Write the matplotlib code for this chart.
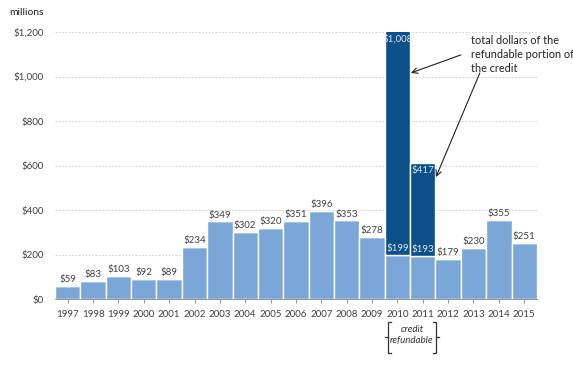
import matplotlib.pyplot as plt
import numpy as np

years = ['1997', '1998', '1999', '2000', '2001', '2002', '2003', '2004', '2005', '2006',
         '2007', '2008', '2009', '2010', '2011', '2012', '2013', '2014', '2015']
credit = [59, 83, 103, 92, 89, 234, 349, 302, 320, 351, 396, 353, 278, 199, 193, 179, 230, 355, 251]
refundable = [0, 0, 0, 0, 0, 0, 0, 0, 0, 0, 0, 0, 0, 1008, 417, 0, 0, 0, 0]
yticks = [0, 200, 400, 600, 800, 1000, 1200]

light = '#7ba6d8'
dark = '#0b5088'
txt = '#404040'

plt.rcParams['font.family'] = ['Lato', 'DejaVu Sans']

fig = plt.figure(figsize=(5.73, 3.66), dpi=100)
ax = fig.add_axes([0.096, 0.183, 0.841, 0.7295])

x = np.arange(len(years))
ax.bar(x, credit, width=1.0, color=light, edgecolor='white', linewidth=1.0, zorder=2)
ax.bar(x, refundable, bottom=credit, width=1.0, color=dark, edgecolor='white', linewidth=1.0, zorder=2)

ax.set_xlim(-0.5, len(years) - 0.5)
ax.set_ylim(0, 1200)
ax.set_yticks(yticks)
ax.set_yticklabels(['$0' if v == 0 else '${:,}'.format(v) for v in yticks], fontsize=7, color=txt)
ax.set_xticks(x)
ax.set_xticklabels(years, fontsize=7, color=txt)
ax.tick_params(axis='y', length=0, pad=8)
ax.tick_params(axis='x', length=3, color='#999999', pad=5)
for v in yticks[1:]:
    ax.axhline(v, color='#cccccc', linestyle=(0, (2, 2)), linewidth=0.6, zorder=1)
for s in ['top', 'right', 'left']:
    ax.spines[s].set_visible(False)
ax.spines['bottom'].set_color('#999999')

for i in range(len(years)):
    if refundable[i] > 0:
        ax.text(i, credit[i] + 8, '${:,}'.format(credit[i]), ha='center', va='bottom',
                fontsize=7, color='#dde8f5', zorder=3)
        top = min(credit[i] + refundable[i], 1200)
        ax.text(i, top - 12, '${:,}'.format(refundable[i]), ha='center', va='top',
                fontsize=7, color='#dde8f5', zorder=3, clip_on=False)
    else:
        ax.text(i, credit[i] + 8, '${:,}'.format(credit[i]), ha='center', va='bottom',
                fontsize=7, color=txt, zorder=3)

fig.text(0.017, 0.967, 'millions', fontsize=7.5, color='#222222', va='center')

ax.text(15.9, 1185, 'total dollars of the\nrefundable portion of\nthe credit', fontsize=7.8,
        color='#222222', va='top', ha='left', linespacing=1.3)
ax.annotate('', xy=(13.53, 1016), xytext=(15.5, 1097),
            arrowprops=dict(arrowstyle='->', color='#222222', lw=0.8, shrinkA=0, shrinkB=0))
ax.annotate('', xy=(14.52, 548), xytext=(16.25, 1016),
            arrowprops=dict(arrowstyle='->', color='#222222', lw=0.8, shrinkA=0, shrinkB=0))

# bracket under 2010-2011
bx0, bx1 = 12.63, 14.52
y0, y1, ym = -103, -243, -171
ax.plot([bx0 + 0.12, bx0, bx0, bx0 + 0.12], [y0, y0, y1, y1], color='#333333', lw=0.9, clip_on=False)
ax.plot([bx0 - 0.12, bx0], [ym, ym], color='#333333', lw=0.9, clip_on=False)
ax.plot([bx1 - 0.12, bx1, bx1, bx1 - 0.12], [y0, y0, y1, y1], color='#333333', lw=0.9, clip_on=False)
ax.plot([bx1 + 0.12, bx1], [ym, ym], color='#333333', lw=0.9, clip_on=False)
ax.text(13.57, -162, 'credit\nrefundable', fontsize=7, style='italic', color='#333333',
        ha='center', va='center', linespacing=1.3)

fig.savefig('out.png', dpi=100)
